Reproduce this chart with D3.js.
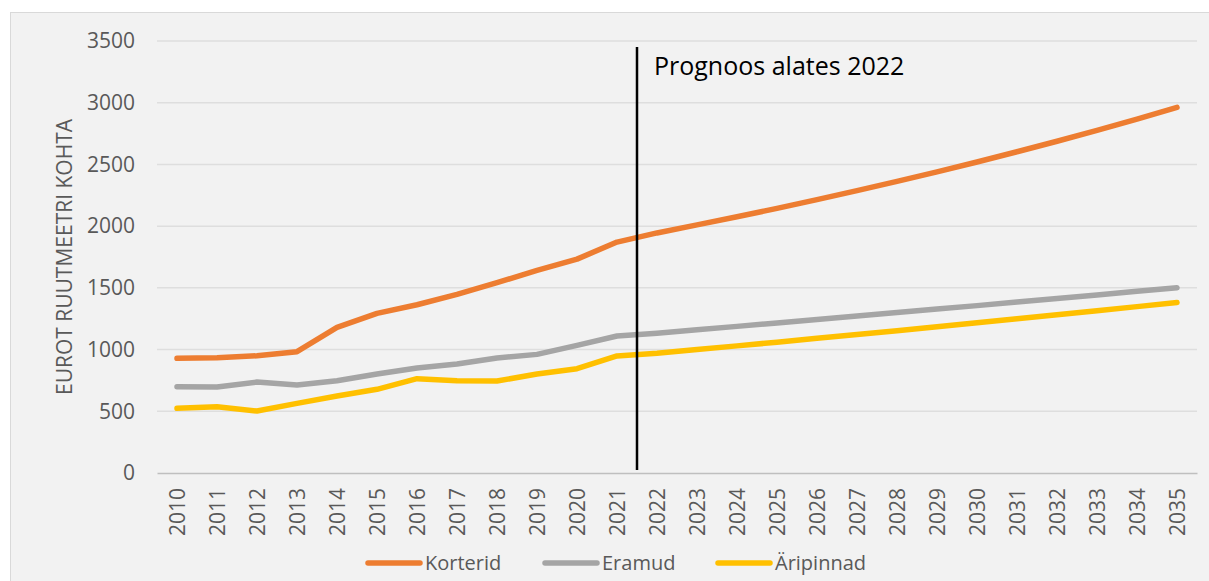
<!DOCTYPE html>
<html>
<head>
<meta charset="utf-8">
<script src="https://cdn.jsdelivr.net/npm/d3@7"></script>
<style>
  body { margin: 0; background: #fff; }
  text { font-family: "Open Sans", sans-serif; }
</style>
</head>
<body>
<svg width="1209" height="581"></svg>
<script>
// years on the x axis
var years = ['2010','2011','2012','2013','2014','2015','2016','2017','2018','2019','2020','2021',
    '2022','2023','2024','2025','2026','2027','2028','2029','2030','2031','2032','2033','2034','2035'];

// eur per m2
var korterid = [929, 934, 950, 983, 1180, 1293, 1363, 1447, 1542, 1642, 1733, 1871,
    1945, 2010, 2076, 2144, 2215, 2288, 2363, 2440, 2520, 2603, 2688, 2776, 2867, 2962];
var eramud = [699, 697, 737, 713, 748, 802, 850, 883, 932, 961, 1034, 1110,
    1132, 1160, 1188, 1216, 1244, 1272, 1300, 1328, 1356, 1385, 1414, 1443, 1472, 1500];
var aripinnad = [524, 537, 502, 564, 624, 678, 764, 748, 745, 802, 845, 948,
    970, 1000, 1030, 1060, 1091, 1122, 1153, 1185, 1217, 1249, 1282, 1315, 1348, 1382];

var yTicks = [0, 500, 1000, 1500, 2000, 2500, 3000, 3500];
var seriesNames = ['Korterid', 'Eramud', 'Äripinnad'];
var colors = ['#ed7d31', '#a5a5a5', '#ffc000'];
var forecastLabel = 'Prognoos alates 2022';

var svg = d3.select('svg');

// chart frame
svg.append('rect')
    .attr('x', 10.5).attr('y', 12.5)
    .attr('width', 1220).attr('height', 600)
    .attr('fill', '#f2f2f2')
    .attr('stroke', '#d9d9d9');

var x = d3.scalePoint().domain(years).range([157, 1197]).padding(0.5);
var y = d3.scaleLinear().domain([0, 3500]).range([473, 41]);

// gridlines
svg.append('g')
    .selectAll('line')
    .data(yTicks.slice(1))
    .enter().append('line')
    .attr('x1', 157).attr('x2', 1197)
    .attr('y1', function(d){ return y(d); })
    .attr('y2', function(d){ return y(d); })
    .attr('stroke', '#dedede')
    .attr('stroke-width', 1.5);

// y axis labels
var yAxis = svg.append('g')
    .attr('transform', 'translate(157,0)')
    .call(d3.axisLeft(y).tickValues(yTicks).tickFormat(d3.format('d')).tickSize(0).tickPadding(22));
yAxis.select('.domain').remove();
yAxis.attr('font-size', 21).attr('font-family', null);
yAxis.selectAll('text')
    .attr('fill', '#595959');

// x axis
var xAxis = svg.append('g')
    .attr('transform', 'translate(0,473)')
    .call(d3.axisBottom(x).tickSize(0));
xAxis.attr('font-size', 21).attr('font-family', null);
xAxis.select('.domain')
    .attr('stroke', '#bfbfbf')
    .attr('stroke-width', 1.5);
xAxis.selectAll('text')
    .attr('fill', '#595959')
    .attr('text-anchor', 'end')
    .attr('transform', 'rotate(-90)')
    .attr('x', -15)
    .attr('y', 0)
    .attr('dy', '0.35em');

// y title
svg.append('text')
    .attr('transform', 'translate(72,257) rotate(-90)')
    .attr('text-anchor', 'middle')
    .attr('font-size', 21)
    .attr('fill', '#595959')
    .text('EUROT RUUTMEETRI KOHTA');

// series lines
var allSeries = [korterid, eramud, aripinnad];
var line = d3.line()
    .x(function(d, i){ return x(years[i]); })
    .y(function(d){ return y(d); });

svg.append('g')
    .selectAll('path')
    .data(allSeries)
    .enter().append('path')
    .attr('d', line)
    .attr('fill', 'none')
    .attr('stroke', function(d, i){ return colors[i]; })
    .attr('stroke-width', 5.5)
    .attr('stroke-linecap', 'round')
    .attr('stroke-linejoin', 'round');

// forecast marker between 2021 and 2022
var fx = (x('2021') + x('2022')) / 2;
svg.append('line')
    .attr('x1', fx).attr('x2', fx)
    .attr('y1', 47).attr('y2', 470)
    .attr('stroke', '#000')
    .attr('stroke-width', 2.5);

svg.append('text')
    .attr('x', fx + 17)
    .attr('y', 75)
    .attr('font-size', 25)
    .attr('fill', '#000')
    .text(forecastLabel);

// legend
var legendX = [366, 543, 716];
var legend = svg.append('g')
    .selectAll('g')
    .data(seriesNames)
    .enter().append('g')
    .attr('transform', function(d, i){ return 'translate(' + legendX[i] + ',563)'; });

legend.append('line')
    .attr('x1', 2).attr('x2', 54)
    .attr('y1', 0).attr('y2', 0)
    .attr('stroke', function(d, i){ return colors[i]; })
    .attr('stroke-width', 5.5)
    .attr('stroke-linecap', 'round');

legend.append('text')
    .attr('x', 59)
    .attr('dy', '0.35em')
    .attr('font-size', 20)
    .attr('fill', '#595959')
    .text(function(d){ return d; });
</script>
</body>
</html>
